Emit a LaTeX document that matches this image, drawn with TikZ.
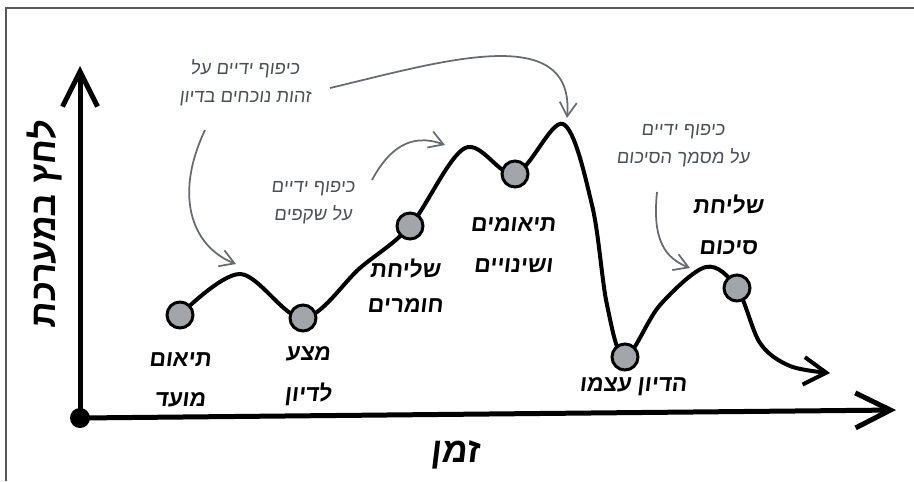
\documentclass[tikz,border=0pt]{standalone}
\usepackage{fontspec}
\usetikzlibrary{arrows.meta}
\TeXXeTstate=1
\newfontfamily\hebfont[Script=Hebrew,FakeSlant=0.12]{Liberation Sans}
\newcommand{\heb}[1]{\beginR #1\endR}
\definecolor{notegray}{HTML}{4C5157}
\definecolor{dotgray}{HTML}{A2A5A9}

\begin{document}
\begin{tikzpicture}[x=0.2mm,y=-0.2mm,
    axis/.style={line width=1mm,-{Straight Barb[length=7mm,width=7mm]}},
    curve/.style={line width=0.8mm,-{Straight Barb[length=4.5mm,width=5.5mm]}},
    note/.style={notegray!85,line width=0.35mm,-{Straight Barb[length=2.8mm,width=3.4mm]}},
    stage/.style={circle,draw=black,line width=0.6mm,fill=dotgray,minimum size=5.2mm,inner sep=0pt},
    label/.style={align=center,font=\hebfont\bfseries\fontsize{13}{15}\selectfont},
    notetext/.style={align=center,text=notegray,font=\hebfont\fontsize{10.5}{13}\selectfont},
    axistext/.style={font=\hebfont\bfseries\fontsize{20}{24}\selectfont}]
    \useasboundingbox (0,0) rectangle (914,481);

    % Frame
    \draw[gray!70!black,line width=0.4mm] (6,481) -- (6,8) -- (914,8);

    % Define points
    \coordinate (O) at (80,418);
    \coordinate (Ytip) at (80,66);
    \coordinate (Xtip) at (896,410);
    \coordinate (P1) at (180,315);
    \coordinate (P2) at (303,318);
    \coordinate (P3) at (410,226);
    \coordinate (P4) at (515,174);
    \coordinate (P5) at (625,357);
    \coordinate (P6) at (737,288);
    \coordinate (End) at (830,373);

    % Draw axes
    \draw[axis] (O) -- (Ytip);
    \draw[axis] (O) -- (Xtip);
    \fill (O) circle (10);

    % Draw pressure curve
    \draw[curve] plot[smooth,tension=0.55] coordinates {
        (P1) (240,274) (P2) (360,268) (P3) (465,148) (P4) (563,124)
        (592,205) (607,305) (P5) (660,305) (706,267) (P6) (760,343) (790,366) (End)};

    % Stages
    \node[stage] (s1) at (P1) {};
    \node[stage] (s2) at (P2) {};
    \node[stage] (s3) at (P3) {};
    \node[stage] (s4) at (P4) {};
    \node[stage] (s5) at (P5) {};
    \node[stage] (s6) at (P6) {};

    % Label stages
    \node[label] (l1) at (180,380) {\heb{תיאום}\\[8pt]\heb{מועד}};
    \node[label] (l2) at (308,376) {\heb{מצע}\\[8pt]\heb{לדיון}};
    \node[label] (l3) at (405,286) {\heb{שליחת}\\[5pt]\heb{חומרים}};
    \node[label] (l4) at (513,245) {\heb{תיאומים}\\[8pt]\heb{ושינויים}};
    \node[label] (l5) at (633,387) {\heb{הדיון עצמו}};
    \node[label] (l6) at (728,225) {\heb{שליחת}\\[8pt]\heb{סיכום}};

    % Label axes
    \node[axistext] (ylab) at (45,225) [rotate=90] {\heb{לחץ במערכת}};
    \node[axistext] (xlab) at (455,455) {\heb{זמן}};

    % Notes
    \node[notetext] (n1) at (245,83) {\heb{כיפוף ידיים על}\\[3pt]\heb{זהות נוכחים בדיון}};
    \node[notetext] (n2) at (313,203) {\heb{כיפוף ידיים}\\[3pt]\heb{על שקפים}};
    \node[notetext] (n3) at (683,146) {\heb{כיפוף ידיים}\\[3pt]\heb{על מסמך הסיכום}};

    \coordinate (a1) at (205,130);
    \coordinate (b1) at (236,264);
    \coordinate (a2) at (330,88);
    \coordinate (b2) at (567,118);
    \coordinate (a3) at (372,180);
    \coordinate (b3) at (445,145);
    \coordinate (a4) at (657,192);
    \coordinate (b4) at (690,268);

    \draw[note] (a1) .. controls (172,200) and (195,248) .. (b1);
    \draw[note] (a2) .. controls (440,62) and (575,20) .. (b2);
    \draw[note] (a3) .. controls (388,150) and (410,132) .. (b3);
    \draw[note] (a4) .. controls (652,240) and (665,258) .. (b4);
\end{tikzpicture}
\end{document}
